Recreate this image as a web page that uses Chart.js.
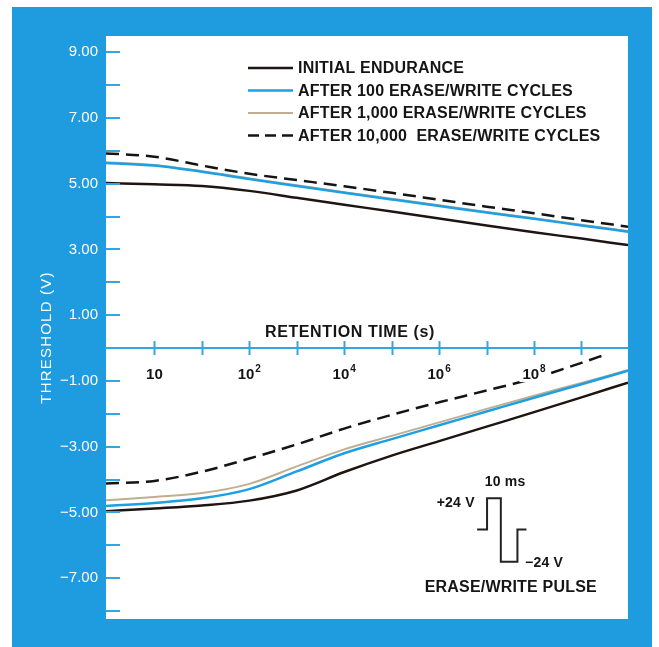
<!DOCTYPE html>
<html>
<head>
<meta charset="utf-8">
<script src="https://cdn.jsdelivr.net/npm/chart.js@4/dist/chart.umd.min.js"></script>
<style>
html,body{margin:0;padding:0;background:#fff;overflow:hidden}
canvas{display:block}
</style>
</head>
<body>
<canvas id="c" width="659" height="647"></canvas>
<script>
// ---- data (x = decade index along the retention-time axis) ----
const decades = [-1.02, 0, 1, 2, 3, 4, 5, 6, 7, 8, 9, 9.98];
const dashedLowerDecades = [-1.02, 0, 1, 2, 3, 4, 5, 6, 7, 8, 9, 9.54];
const xTickValues = [0, 1, 2, 3, 4, 5, 6, 7, 8, 9];
const xLabelValues = [0, 2, 4, 6, 8];
const xTickBases = ['10', '10', '10', '10', '10'];
const xTickExponents = ['', '2', '4', '6', '8'];
const yTickValues = [-8, -7, -6, -5, -4, -3, -2, -1, 0, 1, 2, 3, 4, 5, 6, 7, 8, 9];
const yLabelValues = [-7, -5, -3, -1, 1, 3, 5, 7, 9];
const seriesLabels = ['INITIAL ENDURANCE', 'AFTER 100 ERASE/WRITE CYCLES', 'AFTER 1,000 ERASE/WRITE CYCLES', 'AFTER 10,000  ERASE/WRITE CYCLES'];

const initialUpper   = [5.02, 4.98, 4.93, 4.78, 4.57, 4.36, 4.15, 3.94, 3.73, 3.52, 3.33, 3.13];
const initialLower   = [-4.96, -4.88, -4.79, -4.64, -4.33, -3.77, -3.27, -2.83, -2.39, -1.95, -1.50, -1.05];
const after100Upper  = [5.63, 5.55, 5.36, 5.14, 4.93, 4.72, 4.52, 4.32, 4.12, 3.93, 3.73, 3.54];
const after100Lower  = [-4.80, -4.71, -4.57, -4.29, -3.75, -3.20, -2.77, -2.35, -1.93, -1.51, -1.10, -0.69];
const after1000Upper = [5.65, 5.57, 5.38, 5.16, 4.95, 4.74, 4.54, 4.34, 4.14, 3.95, 3.75, 3.56];
const after1000Lower = [-4.63, -4.53, -4.41, -4.13, -3.60, -3.08, -2.67, -2.26, -1.85, -1.45, -1.06, -0.67];
const after10000Upper = [5.92, 5.82, 5.55, 5.30, 5.11, 4.92, 4.72, 4.51, 4.30, 4.10, 3.89, 3.69];
const after10000Lower = [-4.12, -4.04, -3.76, -3.36, -2.93, -2.45, -2.03, -1.65, -1.29, -0.92, -0.45, -0.18];

// erase/write pulse inset (same axes units)
const pulseDecades = [6.80, 7.01, 7.01, 7.30, 7.30, 7.65, 7.65, 7.84];
const pulseVolts   = [-5.52, -5.52, -4.57, -4.57, -6.50, -6.50, -5.52, -5.52];
const pulseNotes = [
  { text: '10 ms', x: 7.39, y: -4.08, align: 'center' },
  { text: '+24 V', x: 6.75, y: -4.72, align: 'right' },
  { text: '\u221224 V', x: 7.81, y: -6.54, align: 'left' },
  { text: 'ERASE/WRITE PULSE', x: 7.51, y: -7.27, align: 'center' }
];

// ---- styles ----
const FRAME_BLUE = '#1f9be0';
const AXIS_BLUE = '#35a5e0';
const FONT = "'Liberation Sans', Arial, sans-serif";
const colors = ['#1e1512', '#1e9fe2', '#bfae92', '#141414'];
const widths = [2.5, 2.5, 2, 2.5];
const dashes = [[], [], [], [13, 7]];

function branches(xsU, upper, xsL, lower) {
  const pts = xsU.map((x, i) => ({ x: x, y: upper[i] }));
  pts.push({ x: xsU[xsU.length - 1], y: null });
  xsL.forEach((x, i) => pts.push({ x: x, y: lower[i] }));
  return pts;
}

const seriesData = [
  branches(decades, initialUpper, decades, initialLower),
  branches(decades, after100Upper, decades, after100Lower),
  branches(decades, after1000Upper, decades, after1000Lower),
  branches(decades, after10000Upper, dashedLowerDecades, after10000Lower)
];

const datasets = seriesData.map((d, i) => ({
  label: seriesLabels[i],
  data: d,
  borderColor: colors[i],
  borderWidth: widths[i],
  borderDash: dashes[i],
  spanGaps: false,
  cubicInterpolationMode: 'monotone',
  pointRadius: 0,
  fill: false
}));
datasets.push({
  label: 'pulse',
  data: pulseDecades.map((x, i) => ({ x: x, y: pulseVolts[i] })),
  borderColor: '#222',
  borderWidth: 2,
  tension: 0,
  pointRadius: 0,
  fill: false
});

const decor = {
  id: 'decor',
  beforeDraw(chart) {
    const { ctx, chartArea: a, width, height } = chart;
    ctx.save();
    ctx.fillStyle = '#fff';
    ctx.fillRect(0, 0, width, height);
    ctx.fillStyle = FRAME_BLUE;
    ctx.fillRect(12, 7, 640, height - 7);
    ctx.fillStyle = '#fff';
    ctx.fillRect(a.left, a.top, a.right - a.left, a.bottom - a.top);
    ctx.restore();
  },
  afterDraw(chart) {
    const { ctx, chartArea: a, scales } = chart;
    const x = scales.x, y = scales.y;
    const y0 = y.getPixelForValue(0);
    ctx.save();
    // x tick labels: base + raised exponent, on a white backdrop
    const baseFont = 'bold 15px ' + FONT;
    const supFont = 'bold 10px ' + FONT;
    xLabelValues.forEach((v, i) => {
      ctx.font = baseFont;
      const bw = ctx.measureText(xTickBases[i]).width;
      ctx.font = supFont;
      const sw = xTickExponents[i] ? ctx.measureText(xTickExponents[i]).width + 1 : 0;
      const cx = x.getPixelForValue(v);
      const left = cx - (bw + sw) / 2;
      const cy = y0 + 25;
      ctx.fillStyle = '#fff';
      ctx.fillRect(left - 3, cy - 11, bw + sw + 6, 20);
      ctx.fillStyle = '#151515';
      ctx.textAlign = 'left';
      ctx.textBaseline = 'alphabetic';
      ctx.font = baseFont;
      ctx.fillText(xTickBases[i], left, cy + 6);
      if (xTickExponents[i]) {
        ctx.font = supFont;
        ctx.fillText(xTickExponents[i], left + bw + 1, cy - 1);
      }
    });
    // tick marks
    ctx.strokeStyle = AXIS_BLUE;
    ctx.lineWidth = 2;
    yTickValues.forEach(v => {
      const py = Math.round(y.getPixelForValue(v));
      ctx.beginPath(); ctx.moveTo(a.left, py); ctx.lineTo(a.left + 14, py); ctx.stroke();
    });
    xTickValues.forEach(v => {
      const px = Math.round(x.getPixelForValue(v)) + 0.5;
      ctx.beginPath(); ctx.moveTo(px, y0 - 7); ctx.lineTo(px, y0 + 7); ctx.stroke();
    });
    // x title above the axis line
    ctx.fillStyle = '#151515';
    ctx.font = 'bold 16px ' + FONT;
    ctx.letterSpacing = '0.6px';
    ctx.textAlign = 'center';
    ctx.textBaseline = 'middle';
    ctx.fillText('RETENTION TIME (s)', a.left + 244, y0 - 15);
    // y title
    ctx.save();
    ctx.translate(47, (a.top + a.bottom) / 2 + 10);
    ctx.rotate(-Math.PI / 2);
    ctx.fillStyle = '#fff';
    ctx.font = '15px ' + FONT;
    ctx.letterSpacing = '1.2px';
    ctx.fillText('THRESHOLD (V)', 0, 0);
    ctx.restore();
    // legend
    ctx.letterSpacing = '0.2px';
    ctx.font = 'bold 16px ' + FONT;
    ctx.textAlign = 'left';
    for (let i = 0; i < 4; i++) {
      const ds = chart.data.datasets[i];
      const ry = a.top + 32 + i * 22.5;
      ctx.strokeStyle = ds.borderColor;
      ctx.lineWidth = ds.borderWidth;
      ctx.setLineDash(i === 3 ? [11, 6] : []);
      ctx.beginPath(); ctx.moveTo(a.left + 142, ry); ctx.lineTo(a.left + 187, ry); ctx.stroke();
      ctx.setLineDash([]);
      ctx.fillStyle = '#151515';
      ctx.fillText(ds.label, a.left + 192, ry + 1);
    }
    // pulse notes
    pulseNotes.forEach((n, i) => {
      ctx.font = (i === 3 ? 'bold 16px ' : 'bold 14px ') + FONT;
      ctx.textAlign = n.align;
      ctx.fillText(n.text, x.getPixelForValue(n.x), y.getPixelForValue(n.y));
    });
    ctx.restore();
  }
};

new Chart(document.getElementById('c'), {
  type: 'line',
  data: { datasets: datasets },
  options: {
    responsive: false,
    animation: false,
    layout: { padding: { left: 0, top: 36, right: 31, bottom: 28 } },
    plugins: { legend: { display: false }, tooltip: { enabled: false } },
    scales: {
      x: {
        type: 'linear',
        position: { y: 0 },
        min: -1.02,
        max: 9.98,
        z: 1,
        afterBuildTicks: s => { s.ticks = xTickValues.map(v => ({ value: v })); },
        grid: { display: false, drawTicks: false },
        border: { display: true, color: AXIS_BLUE, width: 2 },
        ticks: { display: false }
      },
      y: {
        type: 'linear',
        min: -8.24,
        max: 9.49,
        afterFit: s => { s.width = 106; },
        afterBuildTicks: s => { s.ticks = yLabelValues.map(v => ({ value: v })); },
        grid: { display: false, drawTicks: false },
        border: { display: false },
        ticks: {
          color: '#ffffff',
          padding: 8,
          font: { family: FONT, size: 15 },
          callback: v => (v < 0 ? '\u2212' + Math.abs(v).toFixed(2) : v.toFixed(2))
        }
      }
    }
  },
  plugins: [decor]
});
</script>
</body>
</html>
